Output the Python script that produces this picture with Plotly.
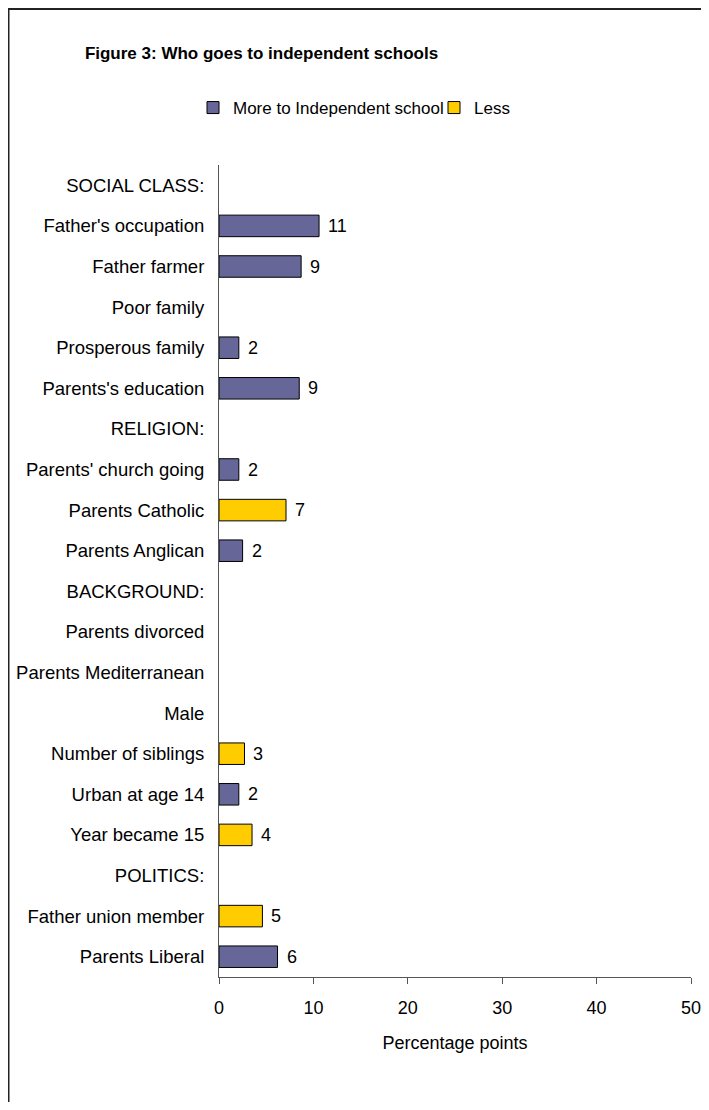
import plotly.graph_objects as go

categories = [
    "SOCIAL CLASS:", "Father's occupation", "Father farmer", "Poor family",
    "Prosperous family", "Parents's education", "RELIGION:",
    "Parents' church going", "Parents Catholic", "Parents Anglican",
    "BACKGROUND:", "Parents divorced", "Parents Mediterranean", "Male",
    "Number of siblings", "Urban at age 14", "Year became 15", "POLITICS:",
    "Father union member", "Parents Liberal",
]
more_values = [None, 10.6, 8.7, None, 2.1, 8.5, None, 2.1, None, 2.5,
               None, None, None, None, None, 2.1, None, None, None, 6.2]
less_values = [None, None, None, None, None, None, None, None, 7.1, None,
               None, None, None, None, 2.7, None, 3.5, None, 4.6, None]
value_labels = ["", "11", "9", "", "2", "9", "", "2", "7", "2",
                "", "", "", "", "3", "2", "4", "", "5", "6"]
series_names = ["More to Independent school", "Less"]
x_ticks = [0, 10, 20, 30, 40, 50]

FONT = "Liberation Sans, Arial, Helvetica, sans-serif"
MORE_COLOR = "#666699"
LESS_COLOR = "#FFCC00"

fig = go.Figure()
fig.add_trace(go.Bar(
    y=categories, x=more_values, orientation="h", name=series_names[0],
    marker=dict(color=MORE_COLOR, line=dict(color="#000000", width=1)),
    legendwidth=196,
))
fig.add_trace(go.Bar(
    y=categories, x=less_values, orientation="h", name=series_names[1],
    marker=dict(color=LESS_COLOR, line=dict(color="#000000", width=1)),
))

annotations = []
for cat, m, l, lab in zip(categories, more_values, less_values, value_labels):
    v = m if m is not None else l
    if v is None or not lab:
        continue
    annotations.append(dict(
        x=v, y=cat, xref="x", yref="y", text=lab, showarrow=False,
        xanchor="left", yanchor="middle", xshift=7,
        font=dict(family=FONT, size=18, color="#000000"),
    ))

# page body has an 8px margin; figure sized to fit the 709x1110 window
W, H = 701, 1094
ML, MR, MT, MB = 211, 18, 157, 125
pw, ph = W - ML - MR, H - MT - MB

fig.update_layout(
    width=W, height=H,
    margin=dict(l=ML, r=MR, t=MT, b=MB, autoexpand=False),
    paper_bgcolor="white", plot_bgcolor="white",
    barmode="overlay", bargap=0.47,
    font=dict(family=FONT, size=18, color="#000000"),
    title=dict(
        text="<b>Figure 3: Who goes to independent schools</b>",
        xref="container", yref="container", x=253.5 / W, y=1 - 45 / H,
        xanchor="center", yanchor="middle",
        font=dict(family=FONT, size=17, color="#000000"),
    ),
    legend=dict(
        orientation="h", x=(185 - ML) / pw, y=1 + (MT - 100) / ph,
        xanchor="left", yanchor="middle",
        font=dict(family=FONT, size=17, color="#000000"),
        itemwidth=30, bgcolor="rgba(0,0,0,0)",
    ),
    showlegend=True,
    annotations=annotations,
    shapes=[dict(
        type="rect", xref="paper", yref="paper",
        x0=(0.5 - ML) / pw, x1=(W + 10 - ML) / pw,
        y0=-(MB + 10) / ph, y1=1 + (MT - 1) / ph,
        line=dict(color="#222222", width=2), fillcolor="rgba(0,0,0,0)",
        layer="above",
    )],
)

fig.update_xaxes(
    range=[0, 50], tickvals=x_ticks, showgrid=False, zeroline=False,
    automargin=False, ticklabeloverflow="allow",
    showline=True, linecolor="#555555", linewidth=1,
    ticks="outside", ticklen=6, tickcolor="#555555", tickwidth=1,
    ticklabelstandoff=8,
    tickfont=dict(family=FONT, size=18, color="#000000"),
    title=dict(text="Percentage points", standoff=19,
               font=dict(family=FONT, size=18, color="#000000")),
)
fig.update_yaxes(
    autorange="reversed", showgrid=False, zeroline=False,
    automargin=False,
    showline=True, linecolor="#555555", linewidth=1,
    ticks="", ticklabelstandoff=10,
    tickfont=dict(family=FONT, size=18.5, color="#000000"),
)

fig.write_html("out.html")
